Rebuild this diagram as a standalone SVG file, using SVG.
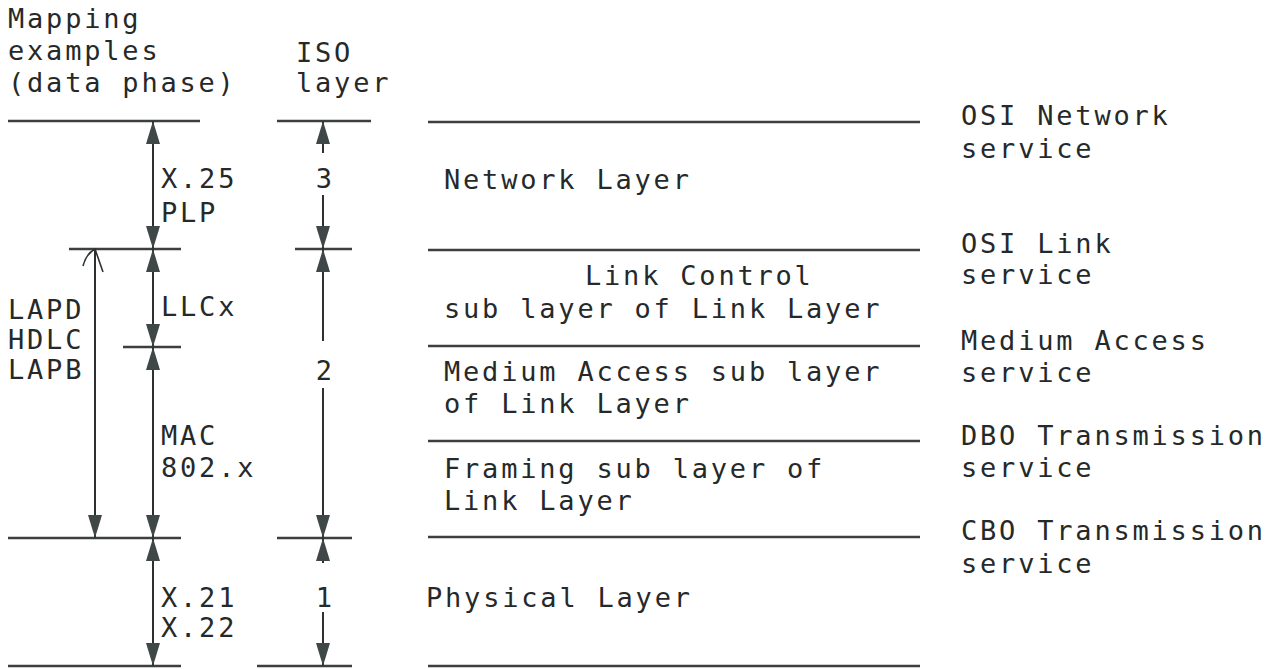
<svg xmlns="http://www.w3.org/2000/svg" width="1274" height="669" viewBox="0 0 1274 669">
  <style>
    text { font-family: "DejaVu Sans Mono", "Liberation Mono", monospace; font-size: 27px; letter-spacing: 2.8px; fill: #262929; }
    .c { text-anchor: middle; letter-spacing: 0; }
    .rule { stroke: #3c3f3f; stroke-width: 2.4; fill: none; }
    .dim { stroke: #2e3131; stroke-width: 2; fill: none; }
    .thin { stroke: #2e3131; stroke-width: 1.6; fill: none; }
  </style>
  <defs>
    <marker id="ah" markerUnits="userSpaceOnUse" orient="auto-start-reverse" markerWidth="30" markerHeight="20" refX="23" refY="7" overflow="visible">
      <path d="M0,0 L23,7 L0,14 Z" fill="#3f4747"/>
    </marker>
  </defs>

  <rect width="1274" height="669" fill="#ffffff"/>

  <!-- column headings -->
  <g id="head-mapping">
    <text x="8" y="28">Mapping</text>
    <text x="8" y="60">examples</text>
    <text x="8" y="92">(data phase)</text>
  </g>
  <g id="head-iso">
    <text x="296" y="62">ISO</text>
    <text x="296" y="92">layer</text>
  </g>

  <!-- mapping examples -->
  <g id="map-x25">
    <text x="161" y="188">X.25</text>
    <text x="161" y="222">PLP</text>
  </g>
  <g id="map-lapd">
    <text x="8" y="319">LAPD</text>
    <text x="8" y="349">HDLC</text>
    <text x="8" y="379">LAPB</text>
  </g>
  <g id="map-llc">
    <text x="161" y="316">LLCx</text>
  </g>
  <g id="map-mac">
    <text x="161" y="445">MAC</text>
    <text x="161" y="477">802.x</text>
  </g>
  <g id="map-x21">
    <text x="161" y="607">X.21</text>
    <text x="161" y="637">X.22</text>
  </g>

  <!-- ISO layer numbers -->
  <g id="iso-3"><text class="c" x="324" y="188">3</text></g>
  <g id="iso-2"><text class="c" x="324" y="380">2</text></g>
  <g id="iso-1"><text class="c" x="324" y="607">1</text></g>

  <!-- layer descriptions -->
  <g id="layer-network">
    <text x="444" y="189">Network Layer</text>
  </g>
  <g id="layer-llc">
    <text x="585" y="285">Link Control</text>
    <text x="444" y="318">sub layer of Link Layer</text>
  </g>
  <g id="layer-mac">
    <text x="444" y="381">Medium Access sub layer</text>
    <text x="444" y="413">of Link Layer</text>
  </g>
  <g id="layer-framing">
    <text x="444" y="478">Framing sub layer of</text>
    <text x="444" y="510">Link Layer</text>
  </g>
  <g id="layer-physical">
    <text x="426" y="607">Physical Layer</text>
  </g>

  <!-- service boundaries -->
  <g id="svc-osi-network">
    <text x="961" y="125">OSI Network</text>
    <text x="961" y="158">service</text>
  </g>
  <g id="svc-osi-link">
    <text x="961" y="253">OSI Link</text>
    <text x="961" y="284">service</text>
  </g>
  <g id="svc-medium">
    <text x="961" y="350">Medium Access</text>
    <text x="961" y="382">service</text>
  </g>
  <g id="svc-dbo">
    <text x="961" y="445">DBO Transmission</text>
    <text x="961" y="477">service</text>
  </g>
  <g id="svc-cbo">
    <text x="961" y="540">CBO Transmission</text>
    <text x="961" y="573">service</text>
  </g>

  <g id="connectors">
    <!-- boundary rules, mapping column -->
    <line class="rule" x1="8" y1="121" x2="200" y2="121"/>
    <line class="rule" x1="69" y1="249" x2="181" y2="249"/>
    <line class="rule" x1="123" y1="347" x2="181" y2="347"/>
    <line class="rule" x1="8" y1="538" x2="181" y2="538"/>
    <line class="rule" x1="8" y1="666" x2="181" y2="666"/>
    <!-- boundary rules, ISO column -->
    <line class="rule" x1="277" y1="121" x2="371" y2="121"/>
    <line class="rule" x1="295" y1="249" x2="352" y2="249"/>
    <line class="rule" x1="277" y1="538" x2="352" y2="538"/>
    <line class="rule" x1="257" y1="666" x2="352" y2="666"/>
    <!-- boundary rules, description column -->
    <line class="rule" x1="428" y1="122" x2="920" y2="122"/>
    <line class="rule" x1="428" y1="250" x2="920" y2="250"/>
    <line class="rule" x1="428" y1="346" x2="920" y2="346"/>
    <line class="rule" x1="428" y1="441" x2="920" y2="441"/>
    <line class="rule" x1="428" y1="537" x2="920" y2="537"/>
    <line class="rule" x1="428" y1="666" x2="920" y2="666"/>

    <!-- mapping spans -->
    <line class="dim" x1="153" y1="121" x2="153" y2="249" marker-start="url(#ah)" marker-end="url(#ah)"/>
    <line class="dim" x1="153" y1="249" x2="153" y2="347" marker-start="url(#ah)" marker-end="url(#ah)"/>
    <line class="dim" x1="153" y1="347" x2="153" y2="538" marker-start="url(#ah)" marker-end="url(#ah)"/>
    <line class="dim" x1="153" y1="538" x2="153" y2="666" marker-start="url(#ah)" marker-end="url(#ah)"/>
    <line class="dim" x1="95" y1="250" x2="95" y2="538" marker-end="url(#ah)"/>
    <path class="thin" d="M83,266 Q86,254 95,249 L103,272"/>

    <!-- ISO layer spans -->
    <line class="dim" x1="323" y1="153" x2="323" y2="121" marker-end="url(#ah)"/>
    <line class="dim" x1="323" y1="195" x2="323" y2="249" marker-end="url(#ah)"/>
    <line class="dim" x1="323" y1="341" x2="323" y2="249" marker-end="url(#ah)"/>
    <line class="dim" x1="323" y1="388" x2="323" y2="538" marker-end="url(#ah)"/>
    <line class="dim" x1="323" y1="563" x2="323" y2="538" marker-end="url(#ah)"/>
    <line class="dim" x1="323" y1="612" x2="323" y2="666" marker-end="url(#ah)"/>
  </g>
</svg>
